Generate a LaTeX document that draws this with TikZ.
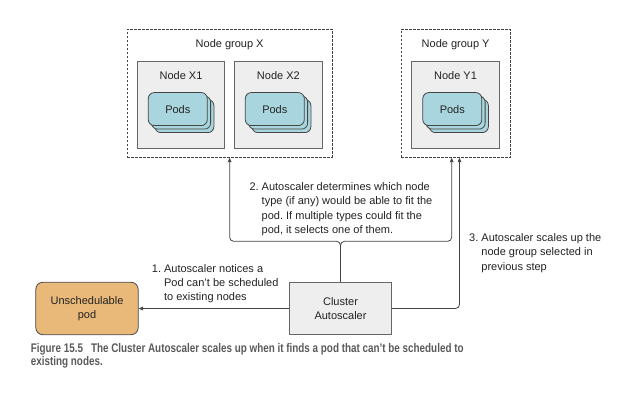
\documentclass[tikz,border=0pt]{standalone}
\usepackage{fontspec}
\setmainfont{Liberation Sans}
\newfontfamily\capfont[FakeStretch=0.79]{Liberation Sans}
\usetikzlibrary{arrows.meta,calc}
\frenchspacing

\definecolor{ink}{HTML}{222222}
\definecolor{wire}{HTML}{444444}
\definecolor{boxline}{HTML}{666666}
\definecolor{boxfill}{HTML}{EEEEEE}
\definecolor{podfill}{HTML}{A9D6DE}
\definecolor{podline}{HTML}{444444}
\definecolor{pendfill}{HTML}{E9B97A}
\definecolor{capgray}{HTML}{5A5A5A}

\tikzset{
  txt/.style={font=\fontsize{11}{14.4}\selectfont, text=ink, inner sep=0pt},
  groupbox/.style={draw=wire, dash pattern=on 2.5pt off 1.5pt, line width=0.7pt, fill=white},
  hostbox/.style={draw=boxline, fill=boxfill, line width=0.8pt},
  card/.style={draw=podline, fill=podfill, line width=0.8pt, rounded corners=6pt,
    minimum width=59pt, minimum height=33pt, inner sep=0pt},
  solidbox/.style={draw=boxline, line width=0.8pt, minimum width=102.4pt, minimum height=52.4pt,
    align=center, font=\fontsize{11}{13.8}\selectfont, text=ink},
  conn/.style={draw=wire, line width=0.8pt, rounded corners=4pt,
    -{Triangle[length=4.5pt,width=3.6pt]}},
  note/.style={txt, anchor=base west}
}

% a stack of three pod cards; #1 = name of the front card, (#2,#3) = its centre
\newcommand{\podpile}[3]{%
  \node[card] at (#2+6.6,#3+7) {};
  \node[card] at (#2+3.3,#3+3.5) {};
  \node[card, txt] (#1) at (#2,#3) {Pods};
}

\begin{document}
\begin{tikzpicture}[x=1pt,y=-1pt]
\useasboundingbox (0,0) rectangle (638,403);

% node groups
\node[groupbox, minimum width=204.7pt, minimum height=128pt] (gX) at (229.65,93.3) {};
\node[groupbox, minimum width=109.3pt, minimum height=128pt] (gY) at (455.65,93.3) {};
\node[txt, anchor=base] (gXlbl) at (229.65,48) {Node group X};
\node[txt, anchor=base] (gYlbl) at (455.65,48) {Node group Y};

% worker nodes
\node[hostbox, minimum width=87.4pt, minimum height=86.3pt] (nX1) at (181,104.85) {};
\node[hostbox, minimum width=87.4pt, minimum height=86.3pt] (nX2) at (278.35,104.85) {};
\node[hostbox, minimum width=87.6pt, minimum height=86.3pt] (nY1) at (455.5,104.85) {};
\node[txt, anchor=base] (nX1lbl) at (181,80) {Node X1};
\node[txt, anchor=base] (nX2lbl) at (278.35,80) {Node X2};
\node[txt, anchor=base] (nY1lbl) at (455.5,80) {Node Y1};

% pods running on each node
\podpile{podX1}{177.8}{109.1}
\podpile{podX2}{274.8}{109.1}
\podpile{podY1}{452.3}{109.1}

% pending pod and the autoscaler
\node[solidbox, fill=pendfill, draw=wire, rounded corners=7pt] (pend) at (87,308.5)
  {Unschedulable\\pod};
\node[solidbox, fill=boxfill] (ca) at (340.5,308.5) {Cluster\\Autoscaler};

% connectors
\draw[conn] (ca.west) -- (pend.east);
\draw[conn] (ca.north) -- ++(0,-40.6) -| (gX.south);
\draw[conn] (ca.north) -- ++(0,-40.6) -| ([xshift=-3.95pt]gY.south);
\draw[conn] (ca.east) -| ([xshift=3.85pt]gY.south);

% step notes
\node[note] (s1) at (151.7,272.2)
  {\begin{tabular}[t]{@{}l@{ }l@{}}1.&Autoscaler notices a\\&Pod can’t be scheduled\\&to existing nodes\end{tabular}};
\node[note] (s2) at (249.3,190.6)
  {\begin{tabular}[t]{@{}l@{ }l@{}}2.&Autoscaler determines which node\\&type (if any) would be able to fit the\\&pod. If multiple types could fit the\\&pod, it selects one of them.\end{tabular}};
\node[note] (s3) at (469,241.6)
  {\begin{tabular}[t]{@{}l@{ }l@{}}3.&Autoscaler scales up the\\&node group selected in\\&previous step\end{tabular}};

% caption
\node[anchor=base west, inner sep=0pt, align=left, text=capgray,
      font=\capfont\bfseries\fontsize{12.5}{13.4}\selectfont] (cap) at (30.7,366)
  {Figure 15.5\hspace{8pt}The Cluster Autoscaler scales up when it finds a pod that can’t be scheduled to\\existing nodes.};
\end{tikzpicture}
\end{document}
